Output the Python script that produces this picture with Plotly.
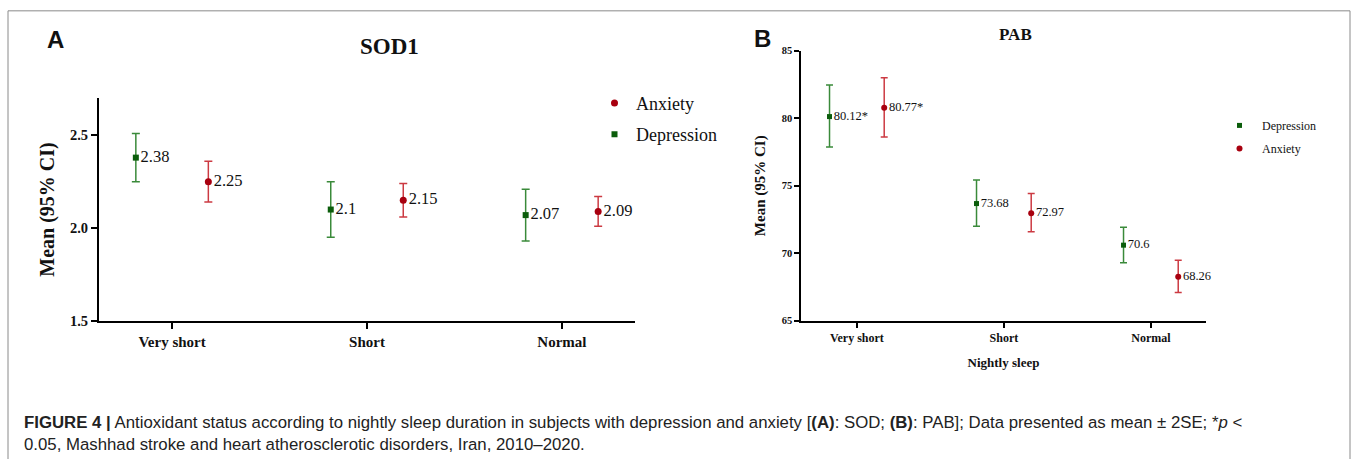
import plotly.graph_objects as go

W, H = 1356, 459

# ---------------- data ----------------
categories = ["Very short", "Short", "Normal"]

sod_dep_mean = [2.38, 2.10, 2.07]
sod_dep_lo = [2.25, 1.95, 1.93]
sod_dep_hi = [2.51, 2.25, 2.21]
sod_dep_labels = ["2.38", "2.1", "2.07"]

sod_anx_mean = [2.25, 2.15, 2.09]
sod_anx_lo = [2.14, 2.06, 2.01]
sod_anx_hi = [2.36, 2.24, 2.17]
sod_anx_labels = ["2.25", "2.15", "2.09"]

pab_dep_mean = [80.12, 73.68, 70.6]
pab_dep_lo = [77.86, 72.00, 69.30]
pab_dep_hi = [82.46, 75.43, 71.92]
pab_dep_labels = ["80.12*", "73.68", "70.6"]

pab_anx_mean = [80.77, 72.97, 68.26]
pab_anx_lo = [78.60, 71.59, 67.09]
pab_anx_hi = [83.00, 74.43, 69.48]
pab_anx_labels = ["80.77*", "72.97", "68.26"]

sod_ticks = [1.5, 2.0, 2.5]
sod_tick_labels = ["1.5", "2.0", "2.5"]
pab_ticks = [65, 70, 75, 80, 85]

# ---------------- style ----------------
DEP_M, DEP_E = "#0b5d0b", "#3a8a3a"
ANX_M, ANX_E = "#a8000f", "#cc3a42"
SERIF = "Liberation Serif, Times New Roman, serif"
SANS = "Liberation Sans, Arial, sans-serif"
OFF = 0.186


def px(x):
    return x / W


def py(y):
    return 1 - y / H


def trace(xc, mean, lo, hi, labels, name, mcol, ecol, symbol, size, tsize,
          xaxis, yaxis, legend, off, cap):
    return go.Scatter(
        x=[i + off for i in range(len(xc))],
        y=mean,
        mode="markers+text",
        text=labels,
        textposition="middle right",
        textfont=dict(family=SERIF, size=tsize, color="#111"),
        marker=dict(symbol=symbol, size=size, color=mcol),
        error_y=dict(type="data", symmetric=False,
                     array=[h - m for h, m in zip(hi, mean)],
                     arrayminus=[m - l for m, l in zip(mean, lo)],
                     color=ecol, thickness=1.5, width=cap),
        name=name, legend=legend, legendgroup=legend + name,
        xaxis=xaxis, yaxis=yaxis, cliponaxis=False,
        hoverinfo="x+y",
    )


fig = go.Figure()
# Panel A (legend order: Anxiety, Depression)
fig.add_trace(trace(categories, sod_anx_mean, sod_anx_lo, sod_anx_hi, sod_anx_labels,
                    "Anxiety", ANX_M, ANX_E, "circle", 7, 16.5, "x", "y", "legend", OFF, 4))
fig.add_trace(trace(categories, sod_dep_mean, sod_dep_lo, sod_dep_hi, sod_dep_labels,
                    "Depression", DEP_M, DEP_E, "square", 6, 16.5, "x", "y", "legend", -OFF, 4))
# Panel B (legend order: Depression, Anxiety)
fig.add_trace(trace(categories, pab_dep_mean, pab_dep_lo, pab_dep_hi, pab_dep_labels,
                    "Depression", DEP_M, DEP_E, "square", 5, 12.5, "x2", "y2", "legend2", -OFF, 3.5))
fig.add_trace(trace(categories, pab_anx_mean, pab_anx_lo, pab_anx_hi, pab_anx_labels,
                    "Anxiety", ANX_M, ANX_E, "circle", 6, 12.5, "x2", "y2", "legend2", OFF, 3.5))

axis_common = dict(showgrid=False, zeroline=False, showline=True, linecolor="black",
                   ticks="outside", tickcolor="black", mirror=False)

fig.update_layout(
    width=W, height=H, autosize=False,
    margin=dict(l=0, r=0, t=0, b=0),
    paper_bgcolor="white", plot_bgcolor="white",
    xaxis=dict(domain=[px(99), px(635)], range=[-0.375, 2.375],
               tickvals=[0, 1, 2], ticktext=["<b>%s</b>" % c for c in categories],
               tickfont=dict(family=SERIF, size=15, color="#111"),
               linewidth=2, ticklen=6, tickwidth=2, anchor="y", **axis_common),
    yaxis=dict(domain=[py(325), py(96)], range=[1.5, 2.7],
               tickvals=sod_ticks, ticktext=["<b>%s</b>" % t for t in sod_tick_labels],
               tickfont=dict(family=SERIF, size=14.5, color="#111"),
               linewidth=2, ticklen=6, tickwidth=2, anchor="x",
               title=dict(text="<b>Mean (95% CI)</b>",
                          font=dict(family=SERIF, size=20, color="#111"), standoff=10),
               **axis_common),
    xaxis2=dict(domain=[px(801), px(1206)], range=[-0.38, 2.375],
                tickvals=[0, 1, 2], ticktext=["<b>%s</b>" % c for c in categories],
                tickfont=dict(family=SERIF, size=12, color="#111"),
                linewidth=1.5, ticklen=5, tickwidth=1.5, anchor="y2",
                title=dict(text="<b>Nightly sleep</b>",
                           font=dict(family=SERIF, size=13, color="#111"), standoff=14),
                **axis_common),
    yaxis2=dict(domain=[py(325), py(47)], range=[65, 85],
                tickvals=pab_ticks, ticktext=["<b>%d</b>" % t for t in pab_ticks],
                tickfont=dict(family=SERIF, size=10.5, color="#111"),
                linewidth=1.5, ticklen=5, tickwidth=1.5, anchor="x2",
                title=dict(text="<b>Mean (95% CI)</b>",
                           font=dict(family=SERIF, size=15, color="#111"), standoff=12),
                **axis_common),
    legend=dict(x=px(593), y=py(82), xanchor="left", yanchor="top",
                font=dict(family=SERIF, size=18, color="#111"),
                traceorder="grouped", tracegroupgap=5, itemwidth=33,
                bgcolor="rgba(0,0,0,0)"),
    legend2=dict(x=px(1217), y=py(109), xanchor="left", yanchor="top",
                 font=dict(family=SERIF, size=12, color="#111"),
                 traceorder="grouped", tracegroupgap=4, itemwidth=35,
                 bgcolor="rgba(0,0,0,0)"),
    showlegend=True,
)

annotations = [
    dict(text="<b>A</b>", x=px(55), y=py(36), font=dict(family=SANS, size=24, color="#111")),
    dict(text="<b>B</b>", x=px(762), y=py(34), font=dict(family=SANS, size=24, color="#111")),
    dict(text="<b>SOD1</b>", x=px(389), y=py(43), font=dict(family=SERIF, size=23, color="#111")),
    dict(text="<b>PAB</b>", x=px(1015), y=py(30), font=dict(family=SERIF, size=17, color="#111")),
]
for a in annotations:
    a.update(xref="paper", yref="paper", showarrow=False, xanchor="center", yanchor="middle")
    fig.add_annotation(**a)

caption = ("<b>FIGURE 4 |</b> Antioxidant status according to nightly sleep duration in subjects "
           "with depression and anxiety [<b>(A)</b>: SOD; <b>(B)</b>: PAB]; Data presented as "
           "mean ± 2SE; *<i>p</i> &lt;<br>0.05, Mashhad stroke and heart atherosclerotic disorders, "
           "Iran, 2010–2020.")
fig.add_annotation(text=caption, x=px(22), y=py(441), xref="paper", yref="paper",
                   showarrow=False, xanchor="left", yanchor="middle", align="left",
                   font=dict(family=SANS, size=16.8, color="#222"))

fig.add_shape(type="rect", xref="paper", yref="paper",
              x0=px(8), x1=px(1350), y0=-0.1, y1=py(6),
              line=dict(color="#8a8a8a", width=1), fillcolor="rgba(0,0,0,0)", layer="below")

fig.write_html("out.html", config={"displayModeBar": False},
               post_script="document.body.style.margin='0';")
